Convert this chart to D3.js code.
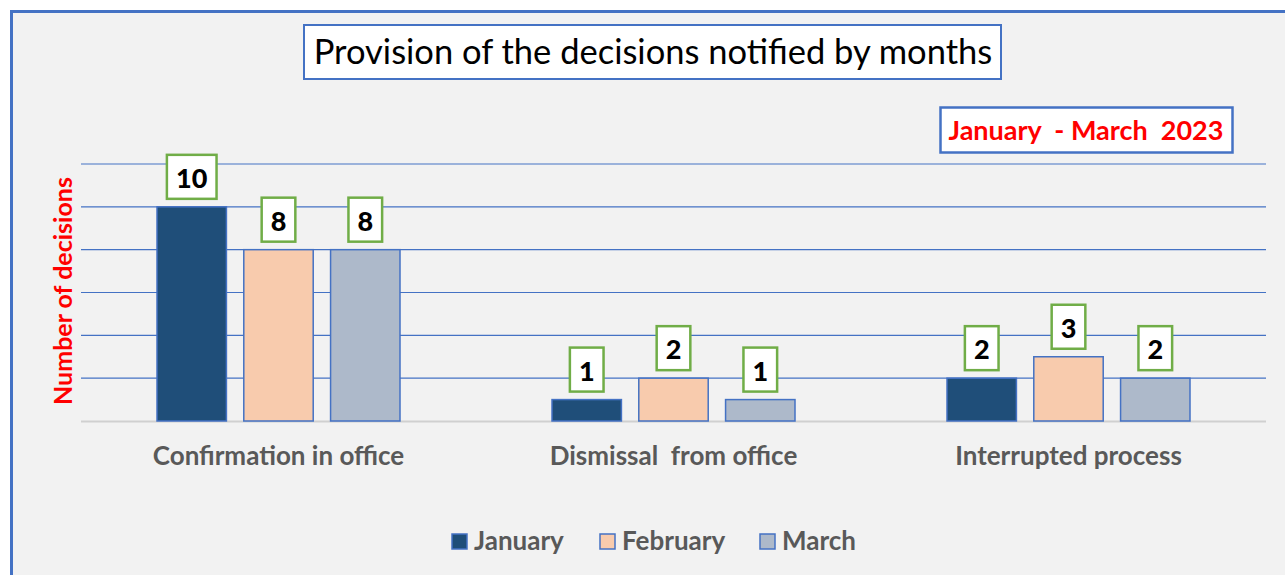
<!DOCTYPE html>
<html>
<head>
<meta charset="utf-8">
<script src="https://cdn.jsdelivr.net/npm/d3@7"></script>
<style>
  html, body { margin: 0; padding: 0; background: #fff; }
  svg { display: block; }
</style>
</head>
<body>
<svg id="chart"></svg>
<script>
const categories = ['Confirmation in office', 'Dismissal  from office', 'Interrupted process'];
const months = ['January', 'February', 'March'];
const january  = [10, 1, 2];
const february = [8, 2, 3];
const march    = [8, 1, 2];
const yTicks = [0, 2, 4, 6, 8, 10, 12];

const COLORS = { January: '#1f4e79', February: '#f8cbad', March: '#adb9ca' };
const FONT = 'Lato, "Open Sans", sans-serif';

const width = 1285, height = 575;
const svg = d3.select('#chart').attr('width', width).attr('height', height);

// chart frame
svg.append('rect')
  .attr('x', 11.5).attr('y', 11.5)
  .attr('width', 1300).attr('height', 600)
  .attr('fill', '#f2f2f2')
  .attr('stroke', '#4472c4')
  .attr('stroke-width', 3);

const plot = { left: 81, right: 1266, top: 164, bottom: 421 };

const x0 = d3.scaleBand()
  .domain(categories)
  .range([plot.left, plot.right])
  .padding(0);

const x1 = d3.scaleBand()
  .domain(months)
  .range([76, 319])
  .paddingInner(0.2);

const y = d3.scaleLinear()
  .domain([0, 12])
  .range([plot.bottom, plot.top]);

const g = svg.append('g');

// gridlines
g.append('g')
  .selectAll('line')
  .data(yTicks.filter(d => d > 0))
  .join('line')
    .attr('x1', plot.left).attr('x2', plot.right)
    .attr('y1', d => y(d)).attr('y2', d => y(d))
    .attr('stroke', '#4472c4')
    .attr('stroke-width', 1.2);

// baseline
g.append('line')
  .attr('x1', plot.left).attr('x2', plot.right)
  .attr('y1', y(0) + 0.5).attr('y2', y(0) + 0.5)
  .attr('stroke', '#d0d0d0')
  .attr('stroke-width', 2);

const rows = categories.map((c, i) => ({
  category: c,
  values: [
    { month: 'January', value: january[i] },
    { month: 'February', value: february[i] },
    { month: 'March', value: march[i] }
  ]
}));

const groups = g.append('g')
  .selectAll('g')
  .data(rows)
  .join('g')
    .attr('transform', d => `translate(${x0(d.category)},0)`);

groups.selectAll('rect')
  .data(d => d.values)
  .join('rect')
    .attr('x', d => x1(d.month))
    .attr('y', d => y(d.value))
    .attr('width', x1.bandwidth())
    .attr('height', d => y(0) - y(d.value))
    .attr('fill', d => COLORS[d.month])
    .attr('stroke', '#4472c4')
    .attr('stroke-width', 1.5);

// data labels in green boxes
const labels = groups.selectAll('g.lbl')
  .data(d => d.values)
  .join('g')
    .attr('class', 'lbl')
    .attr('transform', d => `translate(${x1(d.month) + x1.bandwidth() / 2},${y(d.value) - 8})`);

labels.append('text')
  .attr('text-anchor', 'middle')
  .attr('y', -11)
  .attr('font-family', FONT)
  .attr('font-weight', 900)
  .attr('font-size', 27)
  .attr('fill', '#000')
  .text(d => d.value)
  .each(function() {
    const w = this.getBBox().width;
    d3.select(this.parentNode).insert('rect', 'text')
      .attr('x', -w / 2 - 9).attr('y', -44)
      .attr('width', w + 18).attr('height', 44)
      .attr('fill', '#fff')
      .attr('stroke', '#70ad47')
      .attr('stroke-width', 2.5);
  });

// category labels
g.append('g')
  .selectAll('text')
  .data(categories)
  .join('text')
    .attr('x', d => x0(d) + x0.bandwidth() / 2)
    .attr('y', 465)
    .attr('text-anchor', 'middle')
    .attr('font-family', FONT)
    .attr('font-weight', 'bold')
    .attr('font-size', 26)
    .attr('fill', '#595959')
    .style('white-space', 'pre')
    .text(d => d);

// y axis title
svg.append('text')
  .attr('transform', 'translate(72,291) rotate(-90)')
  .attr('text-anchor', 'middle')
  .attr('font-family', FONT)
  .attr('font-weight', 'bold')
  .attr('font-size', 25)
  .attr('fill', '#ff0000')
  .text('Number of decisions');

// title box
const title = svg.append('g');
title.append('rect')
  .attr('x', 304).attr('y', 25)
  .attr('width', 697).attr('height', 54)
  .attr('fill', '#fff')
  .attr('stroke', '#4472c4')
  .attr('stroke-width', 2);
title.append('text')
  .attr('x', 653).attr('y', 64)
  .attr('text-anchor', 'middle')
  .attr('font-family', FONT)
  .attr('font-size', 34.5)
  .attr('fill', '#000')
  .text('Provision of the decisions notified by months');

// period box
const period = svg.append('g');
period.append('rect')
  .attr('x', 940.5).attr('y', 107.5)
  .attr('width', 292).attr('height', 45)
  .attr('fill', '#fff')
  .attr('stroke', '#4472c4')
  .attr('stroke-width', 2.5);
period.append('text')
  .attr('x', 1086).attr('y', 140)
  .attr('text-anchor', 'middle')
  .attr('font-family', FONT)
  .attr('font-weight', 'bold')
  .attr('font-size', 27)
  .attr('fill', '#ff0000')
  .style('white-space', 'pre')
  .text('January  - March  2023');

// legend
const legendX = [452, 600, 760];
const legend = svg.append('g')
  .selectAll('g')
  .data(months)
  .join('g')
    .attr('transform', (d, i) => `translate(${legendX[i]},534)`);

legend.append('rect')
  .attr('width', 15).attr('height', 15)
  .attr('fill', d => COLORS[d])
  .attr('stroke', '#4472c4')
  .attr('stroke-width', 1.5);

legend.append('text')
  .attr('x', 22).attr('y', 16)
  .attr('font-family', FONT)
  .attr('font-weight', 'bold')
  .attr('font-size', 26)
  .attr('fill', '#595959')
  .text(d => d);
</script>
</body>
</html>
